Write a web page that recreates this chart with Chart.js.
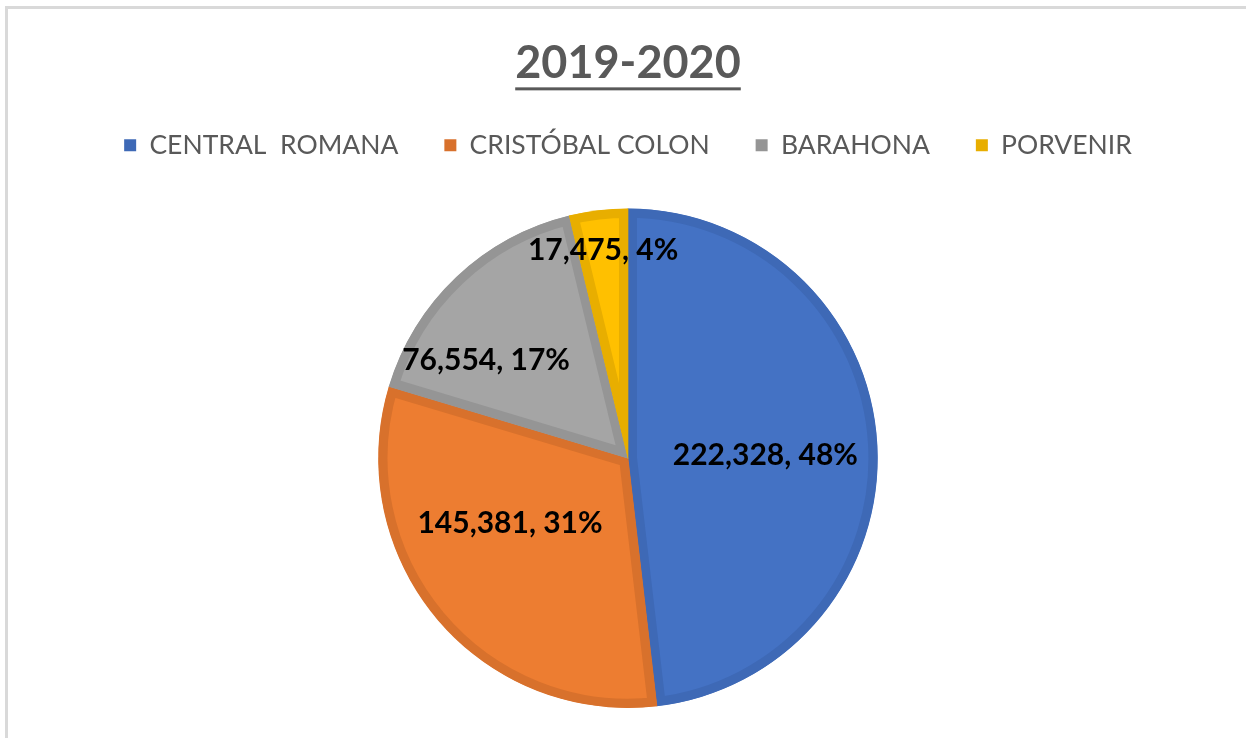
<!DOCTYPE html>
<html>
<head>
<meta charset="utf-8">
<script src="https://cdn.jsdelivr.net/npm/chart.js@4.4.0/dist/chart.umd.min.js"></script>
<style>
  html, body { margin: 0; padding: 0; background: #ffffff; }
  #wrap { position: relative; width: 1246px; height: 738px; overflow: hidden; }
  #frame { position: absolute; left: 5px; top: 6px; right: -10px; bottom: -10px;
           border-top: 3px solid #d9d9d9; border-left: 3px solid #d9d9d9; pointer-events: none; }
  canvas { position: absolute; left: 0; top: 0; }
</style>
</head>
<body>
<div id="wrap">
  <canvas id="c" width="1246" height="738"></canvas>
  <div id="frame"></div>
</div>
<script>
const titleText = "2019-2020";
const categories = ["CENTRAL  ROMANA", "CRISTÓBAL COLON", "BARAHONA", "PORVENIR"];
const values = [222328, 145381, 76554, 17475];
const percentLabels = ["48%", "31%", "17%", "4%"];

const fillColors = ["#4472C4", "#ED7D31", "#A5A5A5", "#FFC000"];
const edgeColors = ["#3E69B6", "#D8712C", "#959595", "#E8AE00"];
// label placement style: fraction of radius and angle nudge (degrees)
const labelRadiusFrac = [0.55, 0.54, 0.69, 0.84];
const labelAngleNudge = [2, 11, -12, 0];

const fmt = new Intl.NumberFormat('en-US');

const legendSpacer = {
  id: 'legendSpacer',
  beforeInit(chart) {
    const origFit = chart.legend.fit;
    chart.legend.fit = function() {
      origFit.call(this);
      this.height += 40;
    };
  }
};

const titleUnderline = {
  id: 'titleUnderline',
  afterDraw(chart) {
    const tb = chart.titleBlock;
    if (!tb) return;
    const ctx = chart.ctx;
    const opts = chart.options.plugins.title;
    const size = opts.font.size;
    ctx.save();
    ctx.font = `bold ${size}px Lato`;
    const w = ctx.measureText(titleText).width;
    const cx = (tb.left + tb.right) / 2;
    const cy = tb.top + opts.padding.top + size * opts.font.lineHeight / 2;
    ctx.fillStyle = opts.color;
    ctx.fillRect(cx - w / 2, cy + size * 0.53, w, 3);
    ctx.restore();
  }
};

const sliceLabels = {
  id: 'sliceLabels',
  afterDatasetsDraw(chart) {
    const ctx = chart.ctx;
    const meta = chart.getDatasetMeta(0);
    ctx.save();
    ctx.font = "bold 30px Lato";
    ctx.fillStyle = "#000000";
    ctx.textAlign = "center";
    ctx.textBaseline = "middle";
    meta.data.forEach((arc, i) => {
      const p = arc.getProps(['x', 'y', 'startAngle', 'endAngle', 'outerRadius'], true);
      const mid = (p.startAngle + p.endAngle) / 2 + labelAngleNudge[i] * Math.PI / 180;
      const r = p.outerRadius * labelRadiusFrac[i];
      const x = p.x + Math.cos(mid) * r;
      const y = p.y + Math.sin(mid) * r;
      ctx.fillText(fmt.format(values[i]) + ", " + percentLabels[i], x, y);
    });
    ctx.restore();
  }
};

new Chart(document.getElementById('c'), {
  type: 'pie',
  data: {
    labels: categories,
    datasets: [{
      data: values,
      backgroundColor: fillColors,
      borderColor: edgeColors,
      borderWidth: 9,
      borderAlign: 'inner'
    }]
  },
  options: {
    responsive: false,
    animation: false,
    layout: { padding: { left: 10, right: 0, top: 0, bottom: 30 } },
    plugins: {
      title: {
        display: true,
        text: titleText,
        color: "#595959",
        font: { family: "Lato", size: 45, weight: "bold", lineHeight: 1.0 },
        padding: { top: 41, bottom: 0 }
      },
      legend: {
        display: true,
        position: 'top',
        labels: {
          color: "#595959",
          font: { family: "Lato", size: 26.5 },
          boxWidth: 12,
          boxHeight: 12,
          padding: 46,
          generateLabels(chart) {
            return categories.map((name, i) => ({
              text: name,
              fillStyle: edgeColors[i],
              strokeStyle: edgeColors[i],
              lineWidth: 0,
              hidden: false,
              index: i,
              fontColor: "#595959"
            }));
          }
        }
      },
      tooltip: { enabled: false }
    }
  },
  plugins: [legendSpacer, titleUnderline, sliceLabels]
});
</script>
</body>
</html>
